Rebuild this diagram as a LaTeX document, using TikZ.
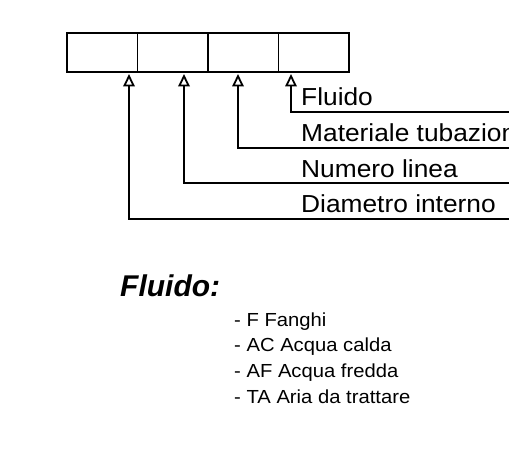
\documentclass[tikz,border=0pt]{standalone}
\usepackage{fontspec}
\setmainfont{Liberation Sans}[FakeStretch=1.07]
\newfontfamily\titlefont{Liberation Sans}
\usetikzlibrary{arrows.meta}
\begin{document}
\begin{tikzpicture}[x=1pt,y=1pt,
  cell/.style={draw, line width=1.8pt, minimum width=70.5pt, minimum height=39pt, inner sep=0pt, outer sep=0pt, anchor=north west},
  lbl/.style={anchor=base west, inner sep=0pt, font=\fontsize{24.6}{28}\selectfont},
  itemtxt/.style={anchor=base west, inner sep=0pt, font=\fontsize{18.9}{22}\selectfont},
  ttl/.style={anchor=base west, inner sep=0pt, font=\titlefont\bfseries\itshape\fontsize{30}{34}\selectfont},
  conn/.style={line width=1.8pt, {Triangle[open,length=12.5pt,width=11.5pt]}-}]
\useasboundingbox (0,0) rectangle (509,451);
\clip (0,0) rectangle (509,451);
\node[cell] (c1) at (67,418) {};
\node[cell] (c2) at (c1.north east) {};
\node[cell] (c3) at (c2.north east) {};
\node[cell] (c4) at (c3.north east) {};
\coordinate (tD) at (129,377);
\coordinate (tN) at (184,377);
\coordinate (tM) at (238,377);
\coordinate (tF) at (291,377);
\coordinate (eF) at (515,339.3);
\coordinate (eM) at (515,302.7);
\coordinate (eN) at (515,267.7);
\coordinate (eD) at (515,231.7);
\draw[conn] (tF) |- (eF);
\draw[conn] (tM) |- (eM);
\draw[conn] (tN) |- (eN);
\draw[conn] (tD) |- (eD);
\node[lbl] (lF) at (301,345) {Fluido};
\node[lbl] (lM) at (301,310) {Materiale tubazione};
\node[lbl] (lN) at (301,273.7) {Numero linea};
\node[lbl] (lD) at (301,238.3) {Diametro interno};
\node[ttl] (title) at (120,154.3) {Fluido:};
\node[itemtxt] (i1) at (234,124.3) {- F Fanghi};
\node[itemtxt] (i2) at (234,99.3) {- AC Acqua calda};
\node[itemtxt] (i3) at (234,73.7) {- AF Acqua fredda};
\node[itemtxt] (i4) at (234,48) {- TA Aria da trattare};
\end{tikzpicture}
\end{document}
